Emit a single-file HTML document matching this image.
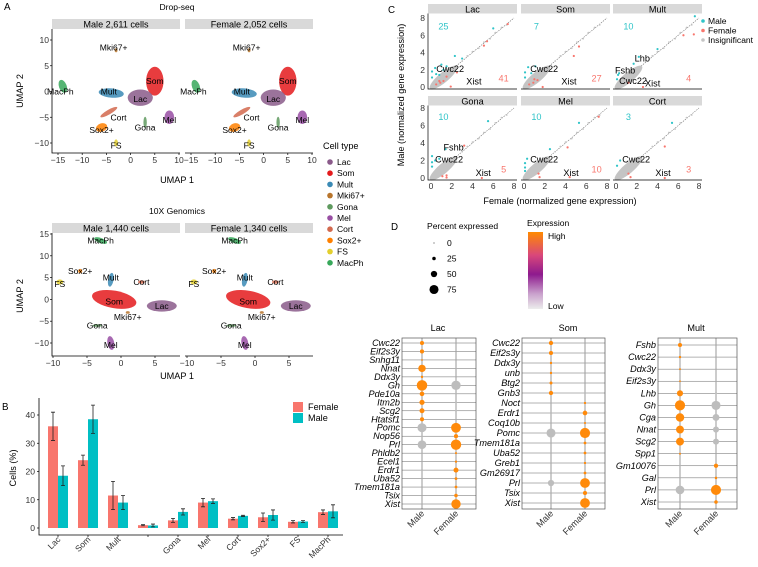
<!DOCTYPE html>
<html><head><meta charset="utf-8"><style>
body{margin:0;background:#fff}
svg{display:block;font-family:"Liberation Sans",Arial,sans-serif}
</style></head><body>
<svg id="fig" width="758" height="567" viewBox="0 0 758 567" xmlns="http://www.w3.org/2000/svg">
<defs>
<linearGradient id="expGrad" x1="0" y1="0" x2="0" y2="1">
<stop offset="0" stop-color="#ff8a00"/><stop offset="0.3" stop-color="#d9477a"/><stop offset="0.55" stop-color="#8e1a8e"/><stop offset="0.8" stop-color="#c9a0cc"/><stop offset="1" stop-color="#ececec"/>
</linearGradient>
</defs>
</svg>
<script>
// ===== DATA =====
const cellTypes=['Lac','Som','Mult','Mki67+','Gona','Mel','Cort','Sox2+','FS','MacPh'];
const cellColors=['#8a5a8a','#e41a1c','#3a8ab5','#b8752c','#5f9a5f','#984ea3','#d2694e','#ff8000','#e3cf2e','#37a85a'];
const dropClusters=[[1,5,2,1.8,2.8,0],[0,2,-1.2,2.6,1.6,0],[2,-4,-0.3,2.6,0.9,-5],[9,-14,1,0.8,1.3,20],[5,8,-5,1,1.3,0],[4,3,-6,0.35,1.1,0],[6,-4.5,-4,2,0.45,30],[7,-6,-7,1.2,0.8,20],[8,-3,-10,0.4,0.7,0],[3,-3,8,0.3,0.4,0]];
const dropLabels=[['Som',5,2],['Lac',2,-1.5],['Mult',-4.5,0],['MacPh',-14.5,0],['Mel',8,-5.5],['Gona',3,-7],['Cort',-2.5,-5],['Sox2+',-6,-7.5],['FS',-3,-10.5],['Mki67+',-3.5,8.5]];
const tenxClusters=[[0,6,-1.5,2.2,1.3,0],[1,-1,0,3.3,2,-10],[2,-1.5,4.5,0.4,1.6,-10],[9,-3,13.5,1,0.6,-20],[7,-6,6.5,0.3,0.5,0],[8,-9,4,0.5,0.6,0],[6,3,4,0.5,0.4,0],[3,1,-3,0.3,0.3,0],[4,-3.5,-6,0.7,0.3,0],[5,-1.5,-10,0.5,1.6,10]];
const tenxLabels=[['MacPh',-3,13.5],['Sox2+',-6,6.5],['Mult',-1.5,5],['FS',-9,3.5],['Cort',3,4],['Som',-1,-0.5],['Lac',6,-1.5],['Mki67+',1,-4],['Gona',-3.5,-6],['Mel',-1.5,-10.5]];
const barCats=['Lac','Som','Mult','','Gona','Mel','Cort','Sox2+','FS','MacPh'];
const femaleVals=[36,24,11.5,1,2.7,9,3.3,3.8,2.2,5.6];
const maleVals=[18.5,38.5,9,0.9,5.7,9.5,4.3,4.6,2.3,5.9];
const femaleErr=[5,1.8,5,0.2,0.7,1.5,0.4,1.5,0.4,0.8];
const maleErr=[3.5,5,2.5,0.5,1.1,0.8,0.2,1.8,0.3,2.3];
const barTicks=[0,10,20,30,40];
const facetNames=['Lac','Som','Mult','Gona','Mel','Cort'];
const maleCounts=[25,7,10,10,10,3];
const femaleCounts=[41,27,4,5,10,3];
const malePts=[[[0.1,1.8],[0.1,1.1],[0.4,2.2],[0.5,1.5],[1,2.6],[1.5,2.4],[2.3,3.6],[3,3.3],[6,6.8],[1.2,2],[0.8,1.4]],
 [[0.1,1.7],[0.1,1.1],[0.4,2.3],[0.7,1.6],[1.1,2.4]],
 [[0.1,0.9],[0.2,1.4],[0.3,1.6],[1.7,2.7],[2.2,3.5],[4,4.4],[7.6,8.2]],
 [[0.1,2.5],[0.1,1.8],[0.1,1.3],[0.4,2],[1.4,3.3],[5.5,6.5],[0.8,2.2]],
 [[0.1,1.7],[0.1,1.2],[0.1,0.8],[0.3,2.2],[2.5,3.3],[5.3,6.3]],
 [[0.1,1.4],[0.4,2],[5.4,6.3]]];
const femalePts=[[[0.5,0.3],[0.9,0.5],[1.2,0.7],[1.9,0.05],[2.5,1.7],[5.4,5.3],[5.1,4.8],[7.4,7.3],[1.5,1.2],[0.8,0.7]],
 [[0.5,0.3],[0.9,0.5],[1.3,0.8],[1.8,0],[4.8,3.6],[5.3,4.7],[1,0.9]],
 [[2.6,0],[6.5,6],[7.5,6.1],[1.2,0.5]],
 [[1.5,0.05],[3.2,3.7],[4.9,0],[1.1,0.2],[1.5,0.3]],
 [[1.5,0.1],[4.4,0.1],[4.2,3.5],[7.2,7],[1.4,0.5]],
 [[1.4,0.1],[4.7,3.6],[4.7,0],[1.2,0.5]]];
const insigPts=[[3,3],[3.5,3.6],[4,4.1],[4.6,4.5],[5.1,5.2],[5.7,5.6],[6.2,6.3],[6.8,6.9],[7.3,7.2]];
const geneLabels=[[['Cwc22',0.5,2.1],['Xist',3.4,0.65]],[['Cwc22',0.6,2.1],['Xist',3.6,0.65]],[['Lhb',1.8,3.3],['Fshb',-0.1,1.9],['Cwc22',0.3,0.7],['Xist',2.8,0.4]],[['Fshb',1.2,3.5],['Cwc22',0.4,2.1],['Xist',4.3,0.6]],[['Cwc22',0.6,2.1],['Xist',3.8,0.6]],[['Cwc22',0.6,2.1],['Xist',3.8,0.6]]];
const lacGenes=['Cwc22','Eif2s3y','Snhg11','Nnat','Ddx3y','Gh','Pde10a','Itm2b','Scg2','Htatsf1','Pomc','Nop56','Prl','Phldb2','Ecel1','Erdr1','Uba52','Tmem181a','Tsix','Xist'];
const lacMale=[30,30,8,60,15,88,35,40,38,30,75,5,72,3,3,4,3,3,3,3];
const lacMaleHi=[1,1,1,1,1,1,1,1,1,1,0,0,0,0,0,0,0,0,0,0];
const lacFemale=[0,0,0,5,0,78,5,10,8,3,82,30,88,12,14,38,18,18,25,78];
const lacFemaleHi=[0,0,0,0,0,0,0,0,0,0,1,1,1,1,1,1,1,1,1,1];
const somGenes=['Cwc22','Eif2s3y','Ddx3y','unb','Btg2','Gnb3','Noct','Erdr1','Coq10b','Pomc','Tmem181a','Uba52','Greb1','Gm26917','Prl','Tsix','Xist'];
const somMale=[32,30,15,15,20,32,3,8,3,75,3,3,3,3,50,3,3];
const somMaleHi=[1,1,1,1,1,1,0,0,0,0,0,0,0,0,0,0,0];
const somFemale=[0,0,0,0,0,8,14,35,12,85,18,18,14,18,82,30,82];
const somFemaleHi=[0,0,0,0,0,0,1,1,1,1,1,1,1,1,1,1,1];
const multGenes=['Fshb','Cwc22','Ddx3y','Eif2s3y','Lhb','Gh','Cga','Nnat','Scg2','Spp1','Gm10076','Gal','Prl','Xist'];
const multMale=[30,15,10,8,48,85,70,65,65,10,4,3,72,0];
const multMaleHi=[1,1,1,1,1,1,1,1,1,1,0,0,0,0];
const multFemale=[0,0,0,0,12,75,55,48,48,0,32,16,85,25];
const multFemaleHi=[0,0,0,0,0,0,0,0,0,0,1,1,1,1];
const sizeLegend=[0,25,50,75];

// ===== HELPERS =====
const NS='http://www.w3.org/2000/svg';
const svg=document.getElementById('fig');
const FSC=1.22;
function mk(tag,attrs,parent){const e=document.createElementNS(NS,tag);for(const k in attrs)e.setAttribute(k,attrs[k]);(parent||svg).appendChild(e);return e;}
function tx(x,y,s,size,anchor,parent,extra){const e=mk('text',Object.assign({x:x,y:y,'font-size':(size*FSC).toFixed(2),'text-anchor':anchor||'start',fill:'#000'},extra||{}),parent);e.textContent=s;return e;}
function lin(d0,d1,r0,r1){return v=>r0+(v-d0)*(r1-r0)/(d1-d0);}
function rad(p){return p<=0?0.5:0.4+p*0.055;}

// ===== PANEL A =====
let e;
e=tx(4,10,'A',8);
function umap(title,ty,panels,clusters,labels,xt,yt,yTop,yBot){
  const g=mk('g',{});
  
  
  e=tx(177,ty,title,7,'middle',g);
  
  
  panels.forEach((p,pi)=>{
    const xs=lin(p.d0,p.d1,p.r0,p.r1), ys=lin(yt[0],yt[1],yBot,yTop);
    const s=mk('rect',{x:p.left,y:p.stripY,width:p.right-p.left,height:10,fill:'#d9d9d9'},g);
    
    
    e=tx((p.left+p.right)/2,p.stripY+8.5,p.label,7.5,'middle',g);
    
    
    clusters.forEach(c=>{
      const el=mk('ellipse',{cx:xs(c[1]),cy:ys(c[2]),rx:Math.abs(xs(c[3])-xs(0)),ry:Math.abs(ys(c[4])-ys(0)),fill:cellColors[c[0]],opacity:0.85,transform:`rotate(${-c[5]} ${xs(c[1])} ${ys(c[2])})`},g);
      
      
    });
    labels.forEach(l=>{
      e=tx(xs(l[1]),ys(l[2])+3,l[0],7,'middle',g);
      
      
    });
    const ax=mk('path',{d:`M${p.left} ${p.stripY+10}V${p.bottom}H${p.right}`,stroke:'#000','stroke-width':0.8,fill:'none'},g);
    if(pi===1)ax.setAttribute('d',`M${p.left} ${p.bottom}H${p.right}`);
    
    
    xt.forEach(t=>{
      mk('line',{x1:xs(t),x2:xs(t),y1:p.bottom,y2:p.bottom+2,stroke:'#000','stroke-width':0.7},g);
      e=tx(xs(t),p.bottom+10,t===0?'0':(t<0?'\u2212'+(-t):String(t)),7,'middle',g,{fill:'#333'});
      
      
    });
    if(pi===0){yt[2].forEach(t=>{
      mk('line',{x1:p.left-2,x2:p.left,y1:ys(t),y2:ys(t),stroke:'#000','stroke-width':0.7},g);
      e=tx(p.left-3,ys(t)+3,t===0?'0':(t<0?'\u2212'+(-t):String(t)),7,'end',g,{fill:'#333'});
      
      
    });}
  });
  return g;
}
umap('Drop-seq',10,[{d0:-15,d1:10,r0:58,r1:179,left:52,right:180,stripY:19,bottom:153,label:'Male 2,611 cells'},{d0:-15,d1:10,r0:191,r1:312,left:185,right:313,stripY:19,bottom:153,label:'Female 2,052 cells'}],dropClusters,dropLabels,[-15,-10,-5,0,5,10],[-10,10,[-10,-5,0,5,10]],40,143);
umap('10X Genomics',214,[{d0:-10,d1:5,r0:53,r1:155,left:52,right:180,stripY:223,bottom:356,label:'Male 1,440 cells'},{d0:-10,d1:5,r0:187,r1:289,left:185,right:313,stripY:223,bottom:356,label:'Female 1,340 cells'}],tenxClusters,tenxLabels,[-10,-5,0,5],[-10,15,[-10,-5,0,5,10,15]],234,343);
[[91,183],[296,379]].forEach(a=>{
  e=tx(0,0,'UMAP 2',7.5,'middle',svg,{transform:`translate(23 ${a[0]}) rotate(-90)`});
  
  
  e=tx(177,a[1],'UMAP 1',7.5,'middle');
  
  
});
e=tx(323,149,'Cell type',7.5);


cellTypes.forEach((c,i)=>{
  const y=162+i*11.2;
  const d=mk('circle',{cx:330,cy:y,r:2.8,fill:cellColors[i]});
  
  
  e=tx(337,y+3,c,7);
  
  
});

// ===== PANEL B =====
e=tx(2,410,'B',8);


const bY=lin(0,40,528,415), bX=i=>58+i*30;
barTicks.forEach(t=>{
  mk('line',{x1:37,x2:39,y1:bY(t),y2:bY(t),stroke:'#000','stroke-width':0.7});
  e=tx(35,bY(t)+3,String(t),7,'end',svg,{fill:'#333'});
  
  
});
barCats.forEach((c,i)=>{
  [[femaleVals,femaleErr,'#f8766d',-10,'female'],[maleVals,maleErr,'#00bfc4',0,'male']].forEach(s=>{
    const v=s[0][i],er=s[1][i],x=bX(i)+s[3];
    const r=mk('rect',{x:x,y:bY(v),width:10,height:bY(0)-bY(v),fill:s[2]});
    
    
    const eb=mk('path',{d:`M${x+5} ${bY(v+er)}V${bY(v-er)}M${x+3} ${bY(v+er)}H${x+7}M${x+3} ${bY(v-er)}H${x+7}`,stroke:'#222','stroke-width':0.8,fill:'none'});
    
    
  });
  mk('line',{x1:bX(i),x2:bX(i),y1:535,y2:537,stroke:'#000','stroke-width':0.7});
  e=tx(0,0,c,7,'end',svg,{fill:'#333',transform:`translate(${bX(i)+3} 540) rotate(-45)`});
  
  
});
e=mk('path',{d:'M39 398V535H343',stroke:'#000','stroke-width':0.8,fill:'none'});


e=tx(0,0,'Cells (%)',7.5,'middle',svg,{transform:'translate(16 468) rotate(-90)'});


[['Female','#f8766d',407],['Male','#00bfc4',418]].forEach(l=>{
  const r=mk('rect',{x:293,y:l[2]-5,width:10,height:10,fill:l[1]});
  
  
  e=tx(308,l[2]+3,l[0],7.5);
  
  
});

// ===== PANEL C =====
e=tx(388,13,'C',8);


const facetX0=[431,524,616];
facetNames.forEach((f,fi)=>{
  const col=fi%3,row=Math.floor(fi/3);
  const x0=facetX0[col];
  const xs=lin(0,8,x0,x0+83);
  const ys=row===0?lin(0,8,87,18):lin(0,8,178,108);
  const top=row===0?4:96;
  const g=mk('g',{});
  
  
  e=mk('rect',{x:x0-3,y:top,width:89,height:9.5,fill:'#d9d9d9'},g);
  
  
  e=tx(x0+41.5,top+8.5,f,7.5,'middle',g);
  
  
  e=mk('line',{x1:xs(0),y1:ys(0),x2:xs(8),y2:ys(8),stroke:'#777','stroke-width':0.6,'stroke-dasharray':'1.5,1'},g);
  
  
  const cx=xs(1.2),cy=ys(1.1);
  e=mk('ellipse',{cx:cx,cy:cy,rx:Math.hypot(xs(2.6)-xs(0),ys(0)-ys(2.6))/2,ry:5,fill:'#c4c4c4',transform:`rotate(${-Math.atan2(ys(0)-ys(2.6),xs(2.6)-xs(0))*180/Math.PI} ${cx} ${cy})`},g);
  
  
  insigPts.forEach(p=>{
    e=mk('circle',{cx:xs(p[0]),cy:ys(p[1]),r:0.9,fill:'#c4c4c4'},g);
    
    
  });
  malePts[fi].forEach(p=>{
    e=mk('circle',{cx:xs(p[0]),cy:ys(p[1]),r:1.1,fill:'#2fc4c8'},g);
    
    
  });
  femalePts[fi].forEach(p=>{
    e=mk('circle',{cx:xs(p[0]),cy:ys(p[1]),r:1.1,fill:'#f8766d'},g);
    
    
  });
  geneLabels[fi].forEach(l=>{
    e=tx(xs(l[1]),ys(l[2])+3,l[0],7.5,'start',g);
    
    
  });
  e=tx(xs(1.2),ys(7)+3,String(maleCounts[fi]),7.5,'middle',g,{fill:'#2fc4c8'});
  
  
  e=tx(xs(7),ys(1)+3,String(femaleCounts[fi]),7.5,'middle',g,{fill:'#f8766d'});
  
  
  e=mk('path',{d:col===0?`M${x0-3} ${top+9.5}V${ys(0)+2}H${x0+86}`:`M${x0-3} ${ys(0)+2}H${x0+86}`,stroke:'#000','stroke-width':0.7,fill:'none'},g);
  
  
  if(col===0){[0,2,4,6,8].forEach(t=>{
    e=tx(x0-6,ys(t)+3,String(t),7,'end',g,{fill:'#333'});
    
    
  });}
  if(row===1){[0,2,4,6,8].forEach(t=>{
    e=tx(xs(t),ys(0)+11,String(t),7,'middle',g,{fill:'#333'});
    
    
  });}
});
e=tx(0,0,'Male (normalized gene expression)',7.5,'middle',svg,{transform:'translate(404 95) rotate(-90)'});


e=tx(560,204,'Female (normalized gene expression)',7.5,'middle');


[['Male','#2fc4c8',21],['Female','#f8766d',30.5],['Insignificant','#c4c4c4',40]].forEach(l=>{
  e=mk('circle',{cx:703,cy:l[2],r:1.8,fill:l[1]});
  
  
  e=tx(708,l[2]+3,l[0],7);
  
  
});

// ===== PANEL D =====
e=tx(391,230,'D',8);


e=tx(427,229,'Percent expressed',7);


sizeLegend.forEach((s,i)=>{
  const y=243+i*15.5;
  e=mk('circle',{cx:434,cy:y,r:s===0?0.5:rad(s),fill:'#000'});
  
  
  e=tx(447,y+3,String(s),7);
  
  
});
e=tx(527,226,'Expression',7);


e=mk('rect',{x:528,y:232,width:15,height:77,fill:'url(#expGrad)'});


e=tx(548,239,'High',7);


e=tx(548,309,'Low',7);


function dotplot(name,genes,mv,mh,fv,fh,left,right,mx,fx,yTop,yBot,tx0){
  const g=mk('g',{});
  
  
  const step=(yBot-yTop)/(genes.length-1);
  e=tx(tx0,331,name,7.5,'middle',g);
  
  
  [mx,fx].forEach(x=>mk('line',{x1:x,x2:x,y1:338,y2:509,stroke:'#c0c0c0','stroke-width':1.6},g));
  genes.forEach((gn,i)=>{
    const y=yTop+i*step;
    mk('line',{x1:left,x2:right,y1:y,y2:y,stroke:'#666','stroke-width':0.5},g);
    e=tx(left-2,y+3,gn,7.5,'end',g,{'font-style':'italic'});
    
    
    e=mk('circle',{cx:mx,cy:y,r:rad(mv[i]),fill:mh[i]?'#ff8a0a':'#bdbdbd'},g);
    
    
    e=mk('circle',{cx:fx,cy:y,r:rad(fv[i]),fill:fh[i]?'#ff8a0a':'#bdbdbd'},g);
    
    
  });
  e=mk('rect',{x:left,y:338,width:right-left,height:171,fill:'none',stroke:'#555','stroke-width':0.7},g);
  
  
  [['Male',mx],['Female',fx]].forEach(l=>{
    e=tx(0,0,l[0],7.5,'end',g,{fill:'#333',transform:`translate(${l[1]+3} 514) rotate(-45)`});
    
    
  });
}
dotplot('Lac',lacGenes,lacMale,lacMaleHi,lacFemale,lacFemaleHi,402,476,422,456,343,504,438);
dotplot('Som',somGenes,somMale,somMaleHi,somFemale,somFemaleHi,522,605,551,585,343,503,568);
dotplot('Mult',multGenes,multMale,multMaleHi,multFemale,multFemaleHi,658,737,680,716,345,502,696);
</script>
</body></html>
